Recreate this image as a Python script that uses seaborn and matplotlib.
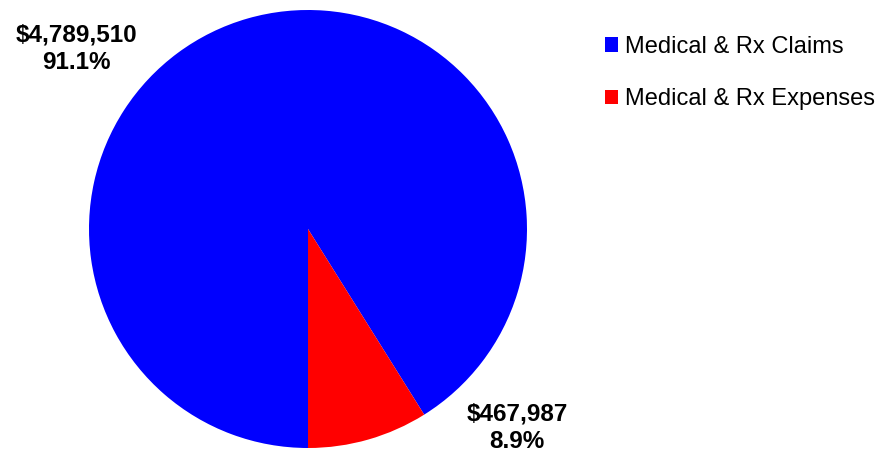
import matplotlib
matplotlib.use("Agg")
import matplotlib.pyplot as plt
import seaborn as sns

# data
categories = ["Medical & Rx Claims", "Medical & Rx Expenses"]
amounts = [4789510, 467987]
shares = [91.1, 8.9]
colors = ["#0000FF", "#FF0000"]

sns.set_theme(style="white")
plt.rcParams["font.family"] = ["Liberation Sans", "DejaVu Sans"]
plt.rcParams["text.color"] = "black"

W, H = 886, 454
fig = plt.figure(figsize=(W / 100, H / 100), dpi=100)

# pie centre (308, 229) px, radius 219 px
cx, cy, r = 308, 229, 219
ax = fig.add_axes([(cx - r) / W, (H - cy - r) / H, 2 * r / W, 2 * r / H])
wedges, _ = ax.pie(amounts, colors=colors, startangle=270, counterclock=False,
                   wedgeprops={"linewidth": 0})
ax.set_xlim(-1, 1)
ax.set_ylim(-1, 1)
ax.set_aspect("equal")
ax.axis("off")

# data labels
label_pos = [(76, 49), (517, 428)]
for (px, py), amt, pct in zip(label_pos, amounts, shares):
    fig.text(px / W, 1 - py / H, f"${amt:,.0f}\n{pct:.1f}%", ha="center", va="center",
             fontsize=17.5, fontweight="bold", linespacing=1.25, color="black")

leg = fig.legend(wedges, categories, loc="upper left", bbox_to_anchor=(593 / W, 1 - 24 / H),
                 frameon=False, fontsize=17, handlelength=0.55, handleheight=0.55,
                 handletextpad=0.3, labelspacing=1.3, borderpad=0, labelcolor="black")

fig.savefig("out.png", dpi=100, facecolor="white")
